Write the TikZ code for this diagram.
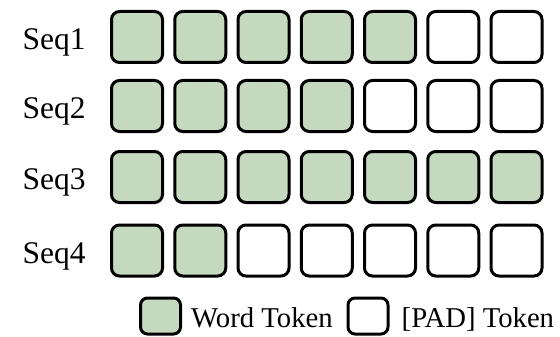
\documentclass[tikz,border=0pt]{standalone}
\usepackage{fontspec}
\setmainfont{Liberation Serif}
\definecolor{wordgreen}{RGB}{197,217,190}
\begin{document}
\begin{tikzpicture}[x=1pt,y=-1pt,
  tok/.style={draw=black,line width=3pt,rounded corners=8pt,minimum width=51pt,minimum height=51pt,inner sep=0pt},
  word/.style={tok,fill=wordgreen},
  pad/.style={tok,fill=white},
  lbl/.style={font=\fontsize{31.5}{31.5}\selectfont,anchor=base west,inner sep=0pt},
  leg/.style={font=\fontsize{28.7}{28.7}\selectfont,anchor=base west,inner sep=0pt},
  legbox/.style={draw=black,line width=3pt,rounded corners=7pt,minimum width=40pt,minimum height=36pt,inner sep=0pt}]
\useasboundingbox (0,0) rectangle (560,337);
\foreach \r/\y/\n in {1/37/5,2/106/4,3/177/7,4/250.5/2}{
  \node[lbl] (seq\r) at (22.5,\y+12.5) {Seq\r};
  \foreach \c in {1,...,7}{
    \pgfmathsetmacro{\xx}{137+(\c-1)*63.25}
    \ifnum\c>\n
      \node[pad] (t\r\c) at (\xx,\y) {};
    \else
      \node[word] (t\r\c) at (\xx,\y) {};
    \fi
  }
}
\node[legbox,fill=wordgreen] (lw) at (160.5,316) {};
\node[leg] (lwt) at (191,327) {Word Token};
\node[legbox,fill=white] (lp) at (368,316) {};
\node[leg] (lpt) at (401.5,327) {[PAD] Token};
\end{tikzpicture}
\end{document}
